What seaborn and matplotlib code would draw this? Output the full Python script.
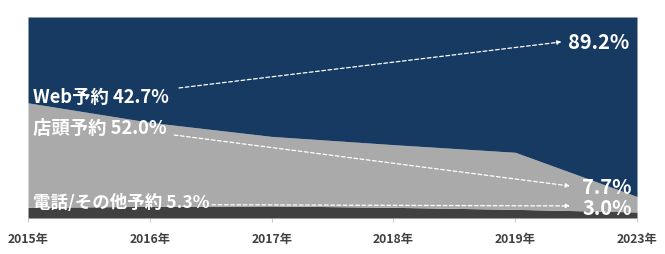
import numpy as np
import pandas as pd
import matplotlib
matplotlib.use("Agg")
import matplotlib.pyplot as plt
import seaborn as sns

# ---- data ----
years = ["2015年", "2016年", "2017年", "2018年", "2019年", "2023年"]
phone_other = [5.3, 5.8, 6.0, 5.3, 4.3, 3.0]
store = [52.0, 41.8, 34.6, 31.2, 28.4, 7.7]
web = [42.7, 52.4, 59.4, 63.5, 67.3, 89.2]

label_web = "Web予約 42.7%"
label_store = "店頭予約 52.0%"
label_phone = "電話/その他予約 5.3%"
end_web = "89.2%"
end_store = "7.7%"
end_phone = "3.0%"

sns.set_theme(style="white")
plt.rcParams["font.family"] = ["Noto Sans CJK JP", "DejaVu Sans"]

df = pd.DataFrame({"year": years, "phone": phone_other, "store": store, "web": web})
tot = df[["phone", "store", "web"]].sum(axis=1)
shares = df[["phone", "store", "web"]].div(tot, axis=0) * 100

fig = plt.figure(figsize=(6.65, 2.55), dpi=100)
ax = fig.add_axes([28 / 665, (255 - 219) / 255, (637 - 28) / 665, (219 - 18) / 255])

x = np.arange(len(years))
ax.stackplot(x, shares["phone"], shares["store"], shares["web"],
             colors=["#404040", "#aaaaaa", "#173a62"], linewidth=0)

ax.set_xlim(0, len(years) - 1)
ax.set_ylim(0, 100)
ax.set_xticks(x)
ax.set_xticklabels(years, fontsize=8.8, fontweight="bold", color="#404040")
ax.set_yticks([])
for s in ax.spines.values():
    s.set_visible(False)
ax.tick_params(axis="x", bottom=True, length=3, width=0.8, color="#cccccc", pad=7)

tkw = dict(color="white", fontweight="bold", va="center")
ax.text(0.04, 60.4, label_web, ha="left", fontsize=13.2, **tkw)
ax.text(0.04, 44.8, label_store, ha="left", fontsize=13.2, **tkw)
ax.text(0.04, 8.0, label_phone, ha="left", fontsize=12.6, **tkw)
ax.text(4.43, 87.6, end_web, ha="left", fontsize=14.5, **tkw)
ax.text(4.55, 15.9, end_store, ha="left", fontsize=14.5, **tkw)
ax.text(4.55, 5.2, end_phone, ha="left", fontsize=14.5, **tkw)

akw = dict(arrowstyle="-|>", color="white", lw=0.9, linestyle=(0, (3, 2)),
           shrinkA=0, shrinkB=0, mutation_scale=6)
ax.annotate("", xy=(4.38, 87.6), xytext=(1.24, 64.7), arrowprops=akw)
ax.annotate("", xy=(4.45, 15.9), xytext=(1.20, 41.3), arrowprops=akw)
ax.annotate("", xy=(4.45, 6.0), xytext=(1.51, 6.6), arrowprops=akw)

fig.savefig("out.png", dpi=100, facecolor="white")
